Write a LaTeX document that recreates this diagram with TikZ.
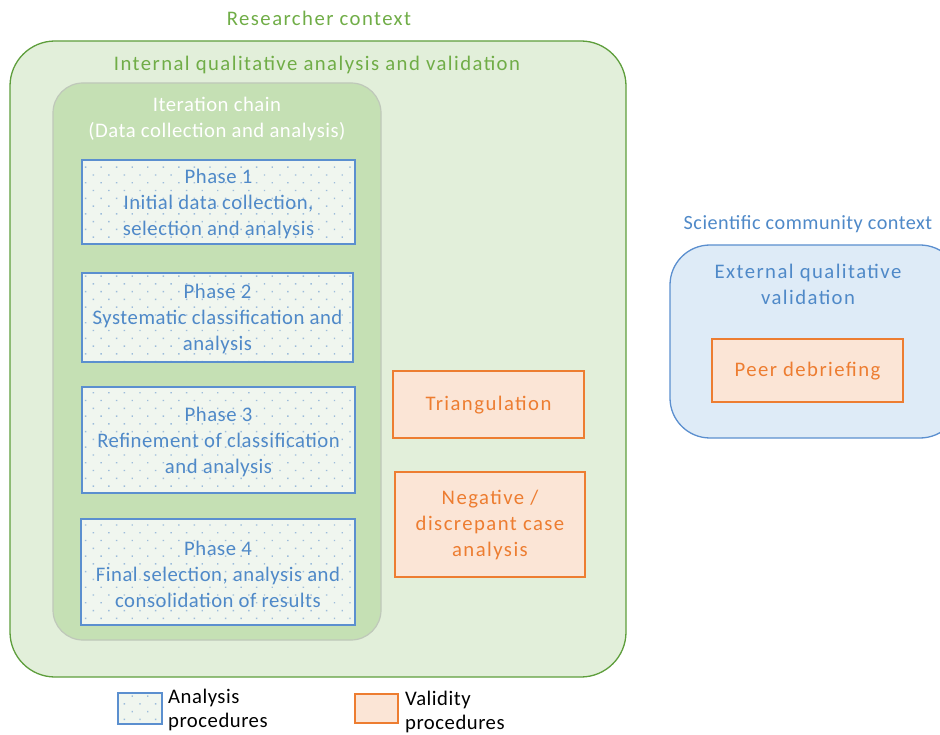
\documentclass[tikz,border=0pt]{standalone}
\usepackage{fontspec}
\setmainfont{Carlito}[LetterSpace=7]
\newfontfamily\tightfont{Carlito}[LetterSpace=2.5]
\usetikzlibrary{patterns.meta}
\definecolor{grtext}{HTML}{70AD47}
\definecolor{grline}{HTML}{5E9E3C}
\definecolor{grfill}{HTML}{E2EFDA}
\definecolor{chainfill}{HTML}{C5E0B4}
\definecolor{chainline}{HTML}{BFC8BA}
\definecolor{bltext}{HTML}{4F89C8}
\definecolor{blline}{HTML}{5B8FCF}
\definecolor{blfill}{HTML}{DEEBF7}
\definecolor{dotfill}{HTML}{F0F6EF}
\definecolor{dotcol}{HTML}{9DBCDB}
\definecolor{ortext}{HTML}{ED7D31}
\definecolor{orfill}{HTML}{FBE5D6}
\tikzset{
  x=1pt, y=-1pt,
  every node/.style={font=\fontsize{20.7}{26}\selectfont, align=center, inner sep=0pt},
  tight/.style={font=\tightfont\fontsize{20.7}{26}\selectfont},
  legendtext/.style={anchor=west, align=left, font=\tightfont\fontsize{20.7}{24}\selectfont},
  analysisbox/.style={draw=blline, line width=1.2pt,
    preaction={fill=dotfill},
    pattern={Dots[distance=11pt, angle=45, radius=1pt]}, pattern color=dotcol},
  validbox/.style={draw=ortext, line width=1.2pt, fill=orfill},
}
\begin{document}
\begin{tikzpicture}
\useasboundingbox (0,0) rectangle (940,735);
% researcher context
\node[text=grtext] (rctitle) at (319,18) {Researcher context};
\draw[draw=grline, fill=grfill, line width=1.3pt, rounded corners=45pt] (10,41) rectangle (626,677);
\node[text=grtext] (inttitle) at (317,65) {Internal qualitative analysis and validation};
% iteration chain
\draw[draw=chainline, fill=chainfill, line width=1.2pt, rounded corners=30pt] (53,83) rectangle (381,640);
\node[tight, text=white] (chaintitle) at (217,119) {Iteration chain\\(Data collection and analysis)};
% phases
\draw[analysisbox] (82,160) rectangle (355,244);
\node[tight, text=bltext] (p1) at (218.5,204) {Phase 1\\Initial data collection,\\selection and analysis};
\draw[analysisbox] (82,273) rectangle (353,362);
\node[tight, text=bltext] (p2) at (217.5,319) {Phase 2\\Systematic classification and\\analysis};
\draw[analysisbox] (82,387) rectangle (355,493);
\node[tight, text=bltext] (p3) at (218.5,442) {Phase 3\\Refinement of classification\\and analysis};
\draw[analysisbox] (81,519) rectangle (355,625);
\node[tight, text=bltext] (p4) at (218,574) {Phase 4\\Final selection, analysis and\\consolidation of results};
% validity procedures inside
\draw[validbox] (393,371) rectangle (584,438);
\node[text=ortext] (tri) at (488.5,405) {Triangulation};
\draw[validbox] (395,472) rectangle (585,577);
\node[text=ortext] (neg) at (490,525) {Negative /\\discrepant case\\analysis};
% scientific community
\node[text=bltext, font=\tightfont\fontsize{20.2}{24}\selectfont] (sctitle) at (808,224) {Scientific community context};
\draw[draw=blline, fill=blfill, line width=1.3pt, rounded corners=40pt] (670,245) rectangle (960,438);
\node[text=bltext] (exttitle) at (808,284) {External qualitative\\validation};
\draw[validbox] (712,339) rectangle (903,402);
\node[text=ortext] (peer) at (807.5,371) {Peer debriefing};
% legend
\draw[analysisbox] (118,693) rectangle (162,724);
\node[legendtext] (leg1) at (168,710) {Analysis\\procedures};
\draw[validbox] (355,694) rectangle (398,723);
\node[legendtext] (leg2) at (405,712) {Validity\\procedures};
\end{tikzpicture}
\end{document}
